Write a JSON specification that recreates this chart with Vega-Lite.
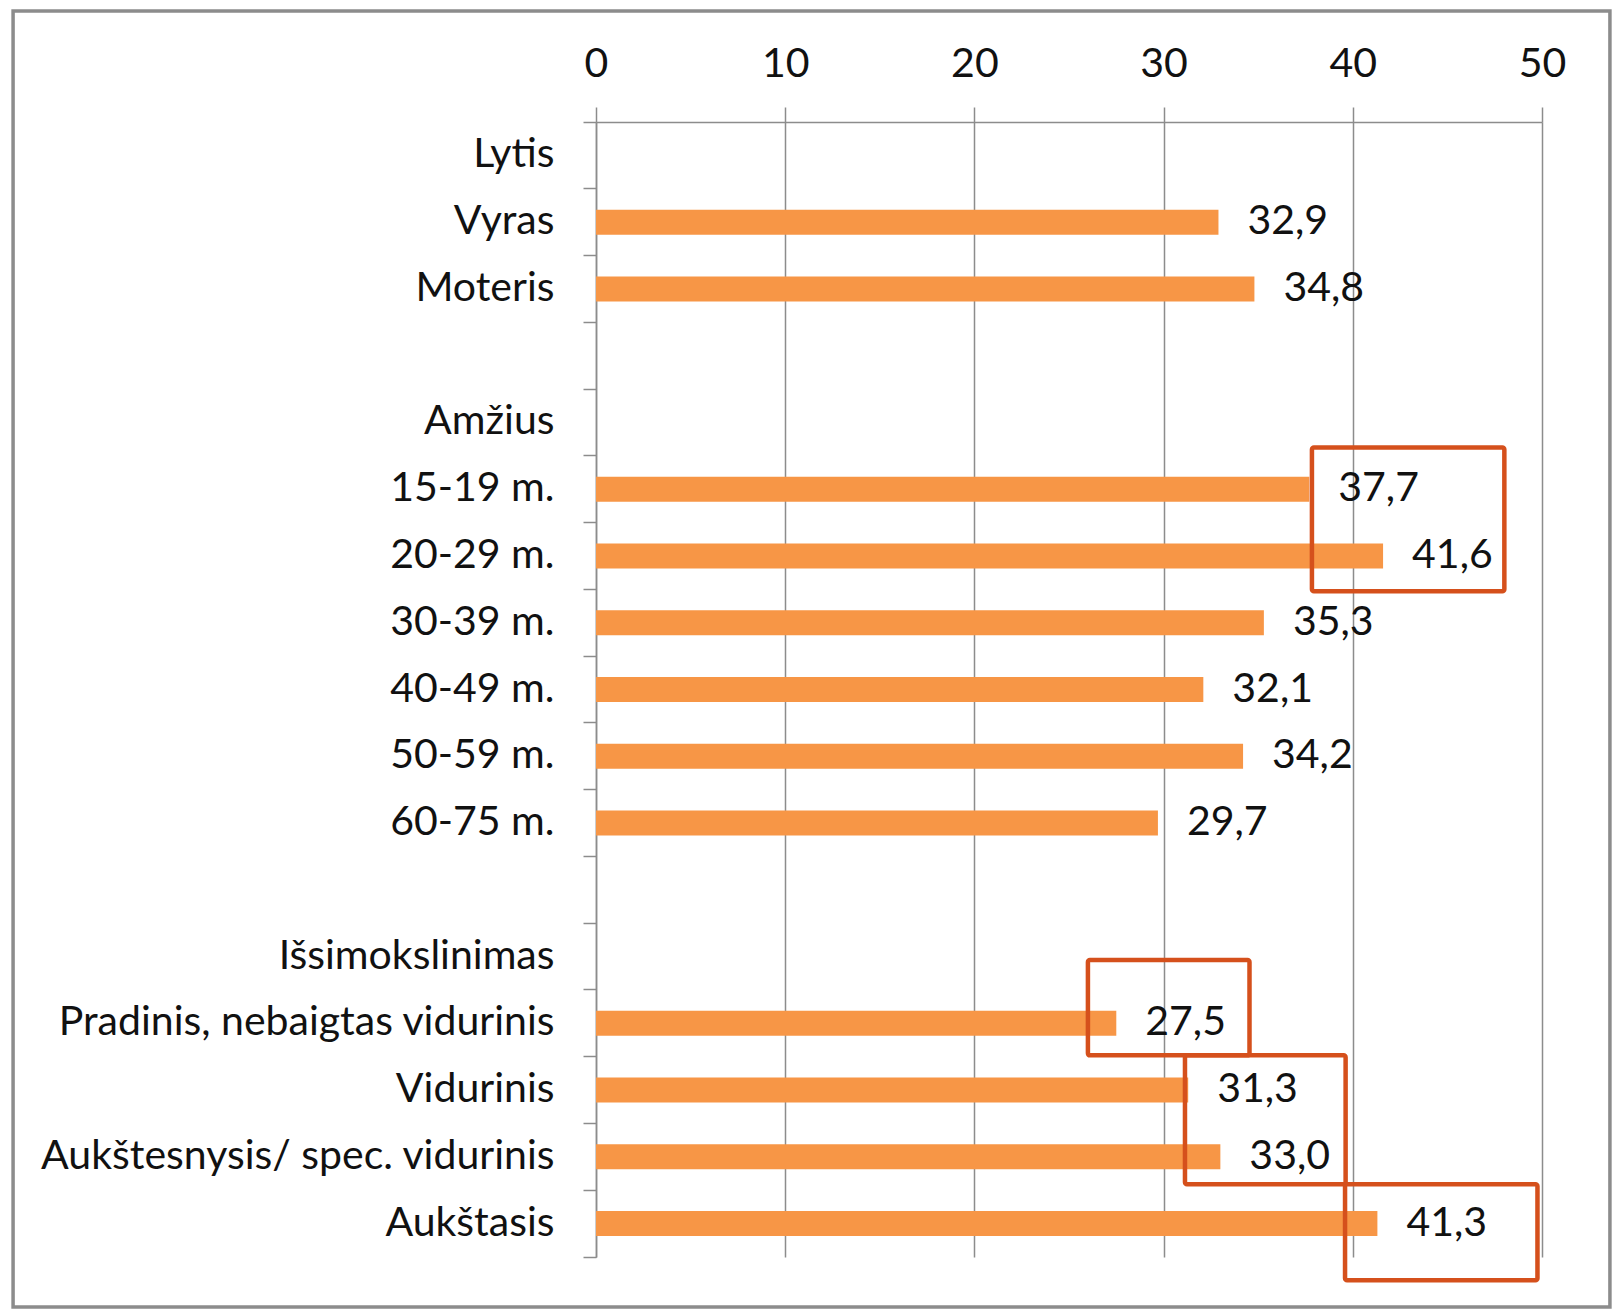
{
  "$schema": "https://vega.github.io/schema/vega-lite/v6.json",
  "width": 946,
  "height": 1135,
  "autosize": {"type": "none"},
  "padding": {"left": 596, "top": 122, "right": 72, "bottom": 54},
  "background": "white",
  "config": {
    "locale": {"number": {"decimal": ",", "thousands": " ", "grouping": [3], "currency": ["", " €"]}},
    "font": "Lato",
    "view": {"stroke": null},
    "axisX": {
      "orient": "top", "title": null, "tickCount": 5,
      "grid": true, "gridColor": "#8c8c8c", "gridWidth": 1.5,
      "domainColor": "#8c8c8c", "domainWidth": 1.5,
      "tickSize": 15, "tickColor": "#8c8c8c", "tickWidth": 1.5,
      "labelFontSize": 41, "labelColor": "#111111", "labelBaseline": "alphabetic",
      "labelPadding": 31, "labelFlush": false, "labelOverlap": false
    }
  },
  "datasets": {
    "rows": [
      {"category": "Lytis", "value": null},
      {"category": "Vyras", "value": 32.9},
      {"category": "Moteris", "value": 34.8},
      {"category": " ", "value": null},
      {"category": "Amžius", "value": null},
      {"category": "15-19 m.", "value": 37.7},
      {"category": "20-29 m.", "value": 41.6},
      {"category": "30-39 m.", "value": 35.3},
      {"category": "40-49 m.", "value": 32.1},
      {"category": "50-59 m.", "value": 34.2},
      {"category": "60-75 m.", "value": 29.7},
      {"category": "  ", "value": null},
      {"category": "Išsimokslinimas", "value": null},
      {"category": "Pradinis, nebaigtas vidurinis", "value": 27.5},
      {"category": "Vidurinis", "value": 31.3},
      {"category": "Aukštesnysis/ spec. vidurinis", "value": 33.0},
      {"category": "Aukštasis", "value": 41.3}
    ],
    "boxes": [
      {"x0": 37.84, "x1": 48.01, "y0": 4.876, "y1": 7.03},
      {"x0": 26.0, "x1": 34.54, "y0": 12.55, "y1": 13.98},
      {"x0": 31.13, "x1": 39.62, "y0": 13.98, "y1": 15.91},
      {"x0": 39.59, "x1": 49.76, "y0": 15.91, "y1": 17.35}
    ],
    "frame": [
      {"x0": -30.81, "x1": 53.59, "y0": -1.663, "y1": 17.749}
    ]
  },
  "layer": [
    {
      "data": {"name": "rows"},
      "mark": {"type": "bar", "height": 25, "color": "#F79646"},
      "encoding": {
        "y": {
          "field": "category", "type": "nominal", "sort": null,
          "scale": {
            "domain": ["Lytis", "Vyras", "Moteris", " ", "Amžius", "15-19 m.", "20-29 m.", "30-39 m.", "40-49 m.", "50-59 m.", "60-75 m.", "  ", "Išsimokslinimas", "Pradinis, nebaigtas vidurinis", "Vidurinis", "Aukštesnysis/ spec. vidurinis", "Aukštasis"],
            "paddingInner": 0, "paddingOuter": 0
          },
          "axis": {
            "title": null, "bandPosition": 1, "tickExtra": true, "tickSize": 13,
            "tickColor": "#8c8c8c", "tickWidth": 1.5, "domainColor": "#8c8c8c", "domainWidth": 1.5,
            "labelFontSize": 41, "labelColor": "#111111", "labelPadding": 29, "labelLimit": 700,
            "labelBaseline": "middle", "grid": false
          }
        },
        "x": {
          "field": "value", "type": "quantitative",
          "scale": {"domain": [0, 50], "nice": false}
        }
      }
    },
    {
      "data": {"name": "rows"},
      "mark": {"type": "text", "align": "left", "baseline": "middle", "dx": 29, "fontSize": 41, "color": "#111111"},
      "encoding": {
        "y": {
          "field": "category", "type": "nominal", "sort": null,
          "scale": {
            "domain": ["Lytis", "Vyras", "Moteris", " ", "Amžius", "15-19 m.", "20-29 m.", "30-39 m.", "40-49 m.", "50-59 m.", "60-75 m.", "  ", "Išsimokslinimas", "Pradinis, nebaigtas vidurinis", "Vidurinis", "Aukštesnysis/ spec. vidurinis", "Aukštasis"],
            "paddingInner": 0, "paddingOuter": 0
          },
          "axis": null
        },
        "x": {
          "field": "value", "type": "quantitative",
          "scale": {"domain": [0, 50], "nice": false}
        },
        "text": {"field": "value", "type": "quantitative", "format": ".1f"}
      }
    },
    {
      "data": {"name": "boxes"},
      "mark": {"type": "rect", "fill": null, "stroke": "#D5501C", "strokeWidth": 4.5, "cornerRadius": 2},
      "encoding": {
        "x": {"field": "x0", "type": "quantitative", "scale": {"domain": [0, 50], "nice": false}},
        "x2": {"field": "x1"},
        "y": {"field": "y0", "type": "quantitative", "scale": {"domain": [0, 17], "reverse": true, "nice": false, "zero": false}, "axis": null},
        "y2": {"field": "y1"}
      }
    },
    {
      "data": {"name": "frame"},
      "mark": {"type": "rect", "fill": null, "stroke": "#8c8c8c", "strokeWidth": 3.5},
      "encoding": {
        "x": {"field": "x0", "type": "quantitative", "scale": {"domain": [0, 50], "nice": false}},
        "x2": {"field": "x1"},
        "y": {"field": "y0", "type": "quantitative", "scale": {"domain": [0, 17], "reverse": true, "nice": false, "zero": false}, "axis": null},
        "y2": {"field": "y1"}
      }
    }
  ],
  "resolve": {"scale": {"y": "independent"}, "axis": {"y": "independent"}}
}
